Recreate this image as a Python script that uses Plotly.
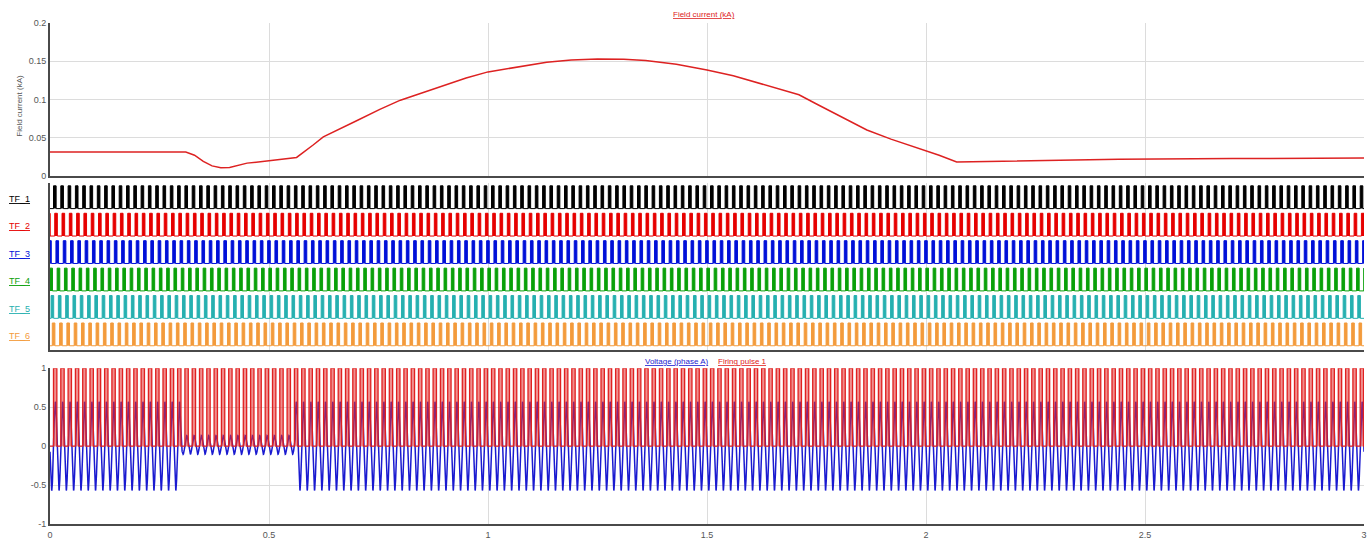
import numpy as np
import plotly.graph_objects as go

# ---------------- data ----------------
field_t = [0.00, 0.10, 0.20, 0.31, 0.33, 0.35, 0.37, 0.39, 0.41, 0.45, 0.50, 0.563, 0.60,
           0.624, 0.70, 0.753, 0.80, 0.85, 0.90, 0.95, 1.00, 1.05, 1.134, 1.19, 1.25, 1.31, 1.36,
           1.43, 1.50, 1.56, 1.63, 1.71, 1.75, 1.79, 1.83, 1.865, 1.92, 1.98, 2.03, 2.07,
           2.20, 2.44, 2.70, 2.90, 3.00]
field_i = [0.031, 0.031, 0.031, 0.031, 0.027, 0.019, 0.0130, 0.0105, 0.0108, 0.0166, 0.0196, 0.024, 0.040,
           0.051, 0.072, 0.087, 0.099, 0.109, 0.119, 0.128, 0.136, 0.141, 0.1486, 0.1515, 0.153, 0.1525, 0.151,
           0.146, 0.1386, 0.131, 0.119, 0.106, 0.094, 0.082, 0.071, 0.060, 0.048, 0.037, 0.027, 0.018,
           0.0195, 0.0218, 0.0226, 0.0231, 0.0232]

# voltage (phase A): system frequency and piecewise amplitude
freq_hz = 60.0
volt_seg_start = [0.0, 0.30, 0.56]
volt_seg_amp = [0.57, 0.12, 0.57]
volt_seg_offset = [0.0, 0.015, 0.0]
volt_first_trough = 0.0205

# firing pulse 1: 0/1 pulses during positive half cycle
pulse_duty = 0.46
pulse_level = 1.0

# thyristor firing signals
tf_names = ["TF_1", "TF_2", "TF_3", "TF_4", "TF_5", "TF_6"]
tf_colors = ["#000000", "#e60000", "#0010d8", "#0aa00a", "#26b0b0", "#f39b3c"]
tf_phase_deg = [0, 60, 120, 180, 240, 300]
tf_duty = 0.36

x_ticks = [0, 0.5, 1, 1.5, 2, 2.5, 3]
x_ticktext = ["0", "0.5", "1", "1.5", "2", "2.5", "3"]
t_end = 3.0

# ---------------- build signals ----------------
T = 1.0 / freq_hz
dt = 0.0002
t = np.arange(0, t_end + dt / 2, dt)
seg_idx = np.searchsorted(volt_seg_start, t, side="right") - 1
amp = np.array(volt_seg_amp)[seg_idx]
off = np.array(volt_seg_offset)[seg_idx]
volt = -amp * np.cos(2 * np.pi * freq_hz * (t - volt_first_trough)) + off


def square_wave(start, duty, base, height):
    xs, ys = [0.0], [base]
    n = int(np.floor((0 - start) / T)) - 1
    while True:
        on = start + n * T
        offt = on + duty * T
        n += 1
        if on > t_end:
            break
        if offt < 0:
            continue
        a, b = max(on, 0.0), min(offt, t_end)
        xs += [a, a, b, b]
        ys += [base, base + height, base + height, base]
    xs.append(t_end)
    ys.append(base)
    return xs, ys


fig = go.Figure()

# top panel: field current
fig.add_trace(go.Scatter(x=field_t, y=field_i, mode="lines", line=dict(color="#dd2222", width=1.5),
                         xaxis="x", yaxis="y", hoverinfo="skip"))

# middle panel: TF pulses
n_tf = len(tf_names)
for k, (name, col, ph) in enumerate(zip(tf_names, tf_colors, tf_phase_deg)):
    base = n_tf - 1 - k
    start = volt_first_trough + T / 4 + ph / 360.0 * T
    xs, ys = square_wave(start, tf_duty, base, 0.83)
    fig.add_trace(go.Scatter(x=xs, y=ys, mode="lines", fill="toself", fillcolor=col,
                             line=dict(color=col, width=1), xaxis="x2", yaxis="y2", hoverinfo="skip"))

# bottom panel: voltage + firing pulse
fig.add_trace(go.Scatter(x=t, y=volt, mode="lines", line=dict(color="#1a1ad0", width=1.5),
                         xaxis="x3", yaxis="y3", hoverinfo="skip"))
px, py = square_wave(volt_first_trough + T / 4, pulse_duty, 0.0, pulse_level)
fig.add_trace(go.Scatter(x=px, y=py, mode="lines", fill="toself", fillcolor="rgba(228,50,50,0.55)",
                         line=dict(color="#e02020", width=1.3), xaxis="x3", yaxis="y3", hoverinfo="skip"))

grid = "#dcdcdc"
axline = "#4a4a4a"
xcommon = dict(range=[0, t_end], tickvals=x_ticks, ticktext=x_ticktext, showgrid=True, gridcolor=grid,
               zeroline=False, showline=True, linecolor=axline, linewidth=2, ticks="", fixedrange=True,
               automargin=False)
ycommon = dict(zeroline=False, showline=True, linecolor=axline, linewidth=2, ticks="", automargin=False)

fig.update_layout(
    width=1368, height=540,
    margin=dict(l=50, r=4, t=23, b=16),
    plot_bgcolor="white", paper_bgcolor="white",
    showlegend=False,
    font=dict(family="Liberation Sans, Arial, sans-serif", size=9, color="#555555"),
    xaxis=dict(**xcommon, anchor="y", showticklabels=False),
    yaxis=dict(**ycommon, domain=[0.695, 1.0], range=[0, 0.2], tickvals=[0, 0.05, 0.1, 0.15, 0.2],
               ticktext=["0", "0.05", "0.1", "0.15", "0.2"], showgrid=True, gridcolor=grid, anchor="x"),
    xaxis2=dict(**xcommon, anchor="y2", showticklabels=False, matches="x"),
    yaxis2=dict(**ycommon, domain=[0.347, 0.681], range=[-0.16, 5.94], showgrid=False, showticklabels=False,
                anchor="x2"),
    xaxis3=dict(**xcommon, anchor="y3", showticklabels=True, matches="x", ticklabelstandoff=1),
    yaxis3=dict(**ycommon, domain=[0.0, 0.311], range=[-1, 1], tickvals=[-1, -0.5, 0, 0.5, 1],
                ticktext=["-1", "-0.5", "0", "0.5", "1"], showgrid=True, gridcolor=grid, anchor="x3"),
)

annotations = [
    dict(text="<u>Field current (kA)</u>", x=0.498, y=1.0, xref="paper", yref="paper",
         xanchor="center", yanchor="bottom", yshift=2, showarrow=False,
         font=dict(size=8, color="#dd2222")),
    dict(text="Field current (kA)", x=-0.0228, y=0.835, xref="paper", yref="paper", textangle=-90,
         xanchor="center", yanchor="middle", showarrow=False, font=dict(size=8, color="#555555")),
    dict(text="<u>Voltage (phase A)</u>", x=0.5023, y=0.324, xref="paper", yref="paper",
         xanchor="right", yanchor="middle", showarrow=False, font=dict(size=8, color="#1a1ad0")),
    dict(text="<u>Firing pulse 1</u>", x=0.5068, y=0.324, xref="paper", yref="paper",
         xanchor="left", yanchor="middle", showarrow=False, font=dict(size=8, color="#e02020")),
]
for k, (name, col) in enumerate(zip(tf_names, tf_colors)):
    annotations.append(dict(text="<u>" + name + "</u>", x=-0.0325, y=n_tf - 1 - k + 0.35, xref="paper", yref="y2",
                            xanchor="left", yanchor="middle", showarrow=False,
                            font=dict(size=9, color=col)))
fig.update_layout(annotations=annotations)

fig.write_html("out.html", config={"displayModeBar": False})

# remove default page margin so the figure fills the window exactly
with open("out.html", "r", encoding="utf-8") as f:
    html = f.read()
html = html.replace("<head>", "<head><style>html,body{margin:0;padding:0;overflow:hidden;}</style>", 1)
with open("out.html", "w", encoding="utf-8") as f:
    f.write(html)
